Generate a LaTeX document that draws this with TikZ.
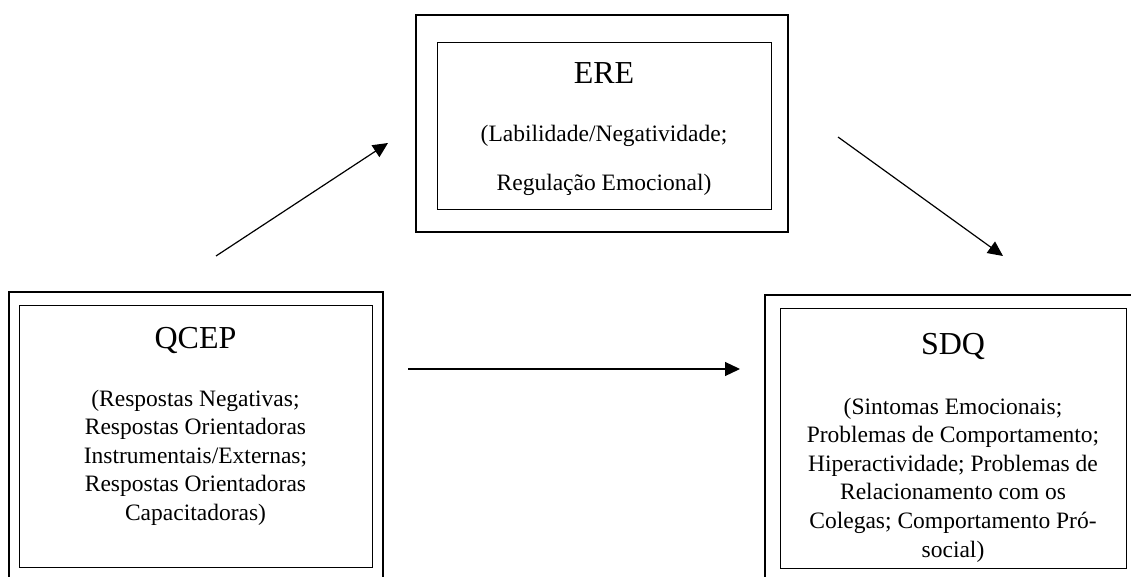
\documentclass[tikz,border=0pt]{standalone}
\usepackage{fontspec}
\setmainfont{Liberation Serif}
\usetikzlibrary{arrows.meta}
\begin{document}
\begin{tikzpicture}[x=1pt,y=-1pt,
  outerbox/.style={draw,line width=2.6pt,inner sep=0pt},
  innerbox/.style={draw,line width=1pt,inner sep=0pt},
  titletext/.style={inner sep=0pt,anchor=base,font=\fontsize{32}{38}\selectfont},
  bodytext/.style={inner sep=0pt,anchor=north,align=center,font=\fontsize{23.5}{28.6}\selectfont},
  arr/.style={line width=1.2pt,-{Triangle[length=15pt,width=14pt]}}]
\useasboundingbox (0,0) rectangle (1131,577);
\begin{scope}
\clip (0,0) rectangle (1131,577);
% QCEP
\node[outerbox,minimum width=374pt,minimum height=308pt] (qcepout) at (196,446) {};
\node[innerbox,minimum width=353pt,minimum height=262pt] (qcepin) at (195.5,436) {};
% ERE
\node[outerbox,minimum width=372pt,minimum height=217pt] (ereout) at (602,123.5) {};
\node[innerbox,minimum width=334pt,minimum height=167pt] (erein) at (604,126.5) {};
% SDQ
\node[outerbox,minimum width=395pt,minimum height=305pt] (sdqout) at (962.5,447.5) {};
\node[innerbox,minimum width=346pt,minimum height=260pt] (sdqin) at (953,438) {};
\end{scope}
% texts
\node[titletext] (qcept) at (195.5,348) {QCEP};
\node[bodytext] (qcepb) at (195.5,389.5) {(Respostas Negativas;\\Respostas Orientadoras\\Instrumentais/Externas;\\Respostas Orientadoras\\Capacitadoras)};
\node[titletext] (eret) at (604,84) {ERE};
\node[bodytext,font=\fontsize{23.5}{49}\selectfont] (ereb) at (604,124.5) {(Labilidade/Negatividade;\\Regulação Emocional)};
\node[titletext] (sdqt) at (953,354) {SDQ};
\node[bodytext] (sdqb) at (953,397.5) {(Sintomas Emocionais;\\Problemas de Comportamento;\\Hiperactividade; Problemas de\\Relacionamento com os\\Colegas; Comportamento Pró-\\social)};
% arrows
\coordinate (a1s) at (216,256);
\coordinate (a1e) at (388,143);
\coordinate (a2s) at (838,137);
\coordinate (a2e) at (1003,256);
\coordinate (a3s) at (408,369);
\coordinate (a3e) at (740,369);
\draw[arr] (a1s) -- (a1e);
\draw[arr] (a2s) -- (a2e);
\draw[arr] (a3s) -- (a3e);
\end{tikzpicture}
\end{document}
